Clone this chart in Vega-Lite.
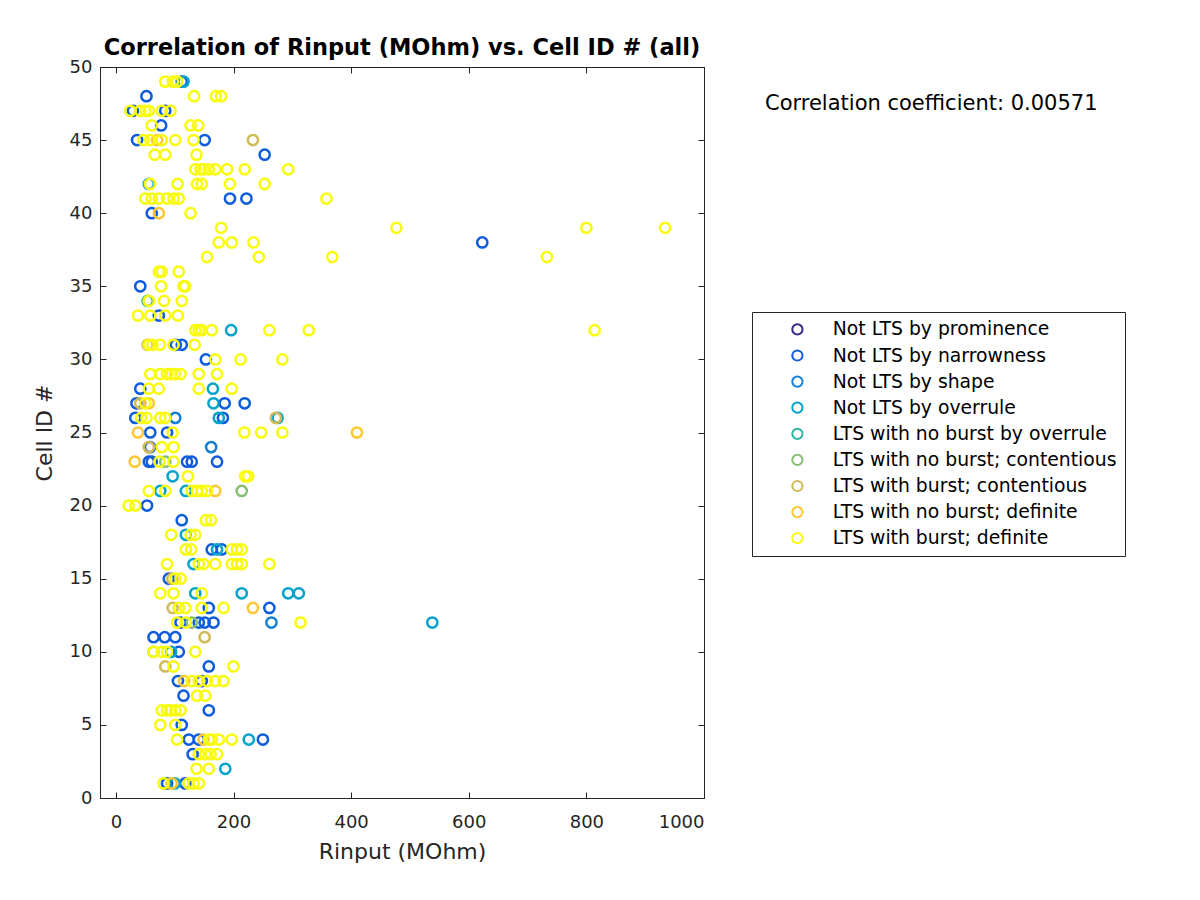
{
  "$schema": "https://vega.github.io/schema/vega-lite/v6.json",
  "width": 604,
  "height": 731,
  "autosize": {"type": "none"},
  "padding": {"left": 100, "top": 67, "right": 496, "bottom": 102},
  "background": "white",
  "config": {
    "font": "DejaVu Sans",
    "view": {"stroke": "#262626", "strokeWidth": 1}
  },
  "title": {
    "text": "Correlation of Rinput (MOhm) vs. Cell ID # (all)",
    "fontSize": 22.5,
    "fontWeight": "bold",
    "color": "#000000",
    "anchor": "middle",
    "offset": -1
  },
  "layer": [
    {
      "data": {
        "values": [
          {"x": 112, "y": 49, "c": "Not LTS by narrowness"},
          {"x": 52, "y": 48, "c": "Not LTS by narrowness"},
          {"x": 29, "y": 47, "c": "Not LTS by narrowness"},
          {"x": 84, "y": 47, "c": "Not LTS by narrowness"},
          {"x": 77, "y": 46, "c": "Not LTS by narrowness"},
          {"x": 36, "y": 45, "c": "Not LTS by narrowness"},
          {"x": 151, "y": 45, "c": "Not LTS by narrowness"},
          {"x": 253, "y": 44, "c": "Not LTS by narrowness"},
          {"x": 194, "y": 41, "c": "Not LTS by narrowness"},
          {"x": 222, "y": 41, "c": "Not LTS by narrowness"},
          {"x": 61, "y": 40, "c": "Not LTS by narrowness"},
          {"x": 623, "y": 38, "c": "Not LTS by narrowness"},
          {"x": 41.5, "y": 35, "c": "Not LTS by narrowness"},
          {"x": 73, "y": 33, "c": "Not LTS by narrowness"},
          {"x": 102, "y": 31, "c": "Not LTS by narrowness"},
          {"x": 112, "y": 31, "c": "Not LTS by narrowness"},
          {"x": 153, "y": 30, "c": "Not LTS by narrowness"},
          {"x": 41.5, "y": 28, "c": "Not LTS by narrowness"},
          {"x": 35, "y": 27, "c": "Not LTS by narrowness"},
          {"x": 185, "y": 27, "c": "Not LTS by narrowness"},
          {"x": 219, "y": 27, "c": "Not LTS by narrowness"},
          {"x": 33, "y": 26, "c": "Not LTS by narrowness"},
          {"x": 182, "y": 26, "c": "Not LTS by narrowness"},
          {"x": 58.5, "y": 25, "c": "Not LTS by narrowness"},
          {"x": 87, "y": 25, "c": "Not LTS by narrowness"},
          {"x": 58, "y": 24, "c": "Not LTS by narrowness"},
          {"x": 56, "y": 23, "c": "Not LTS by narrowness"},
          {"x": 61, "y": 23, "c": "Not LTS by narrowness"},
          {"x": 121, "y": 23, "c": "Not LTS by narrowness"},
          {"x": 129, "y": 23, "c": "Not LTS by narrowness"},
          {"x": 172, "y": 23, "c": "Not LTS by narrowness"},
          {"x": 53, "y": 20, "c": "Not LTS by narrowness"},
          {"x": 112, "y": 19, "c": "Not LTS by narrowness"},
          {"x": 163, "y": 17, "c": "Not LTS by narrowness"},
          {"x": 180, "y": 17, "c": "Not LTS by narrowness"},
          {"x": 90, "y": 15, "c": "Not LTS by narrowness"},
          {"x": 261, "y": 13, "c": "Not LTS by narrowness"},
          {"x": 158, "y": 13, "c": "Not LTS by narrowness"},
          {"x": 110, "y": 12, "c": "Not LTS by narrowness"},
          {"x": 141, "y": 12, "c": "Not LTS by narrowness"},
          {"x": 151, "y": 12, "c": "Not LTS by narrowness"},
          {"x": 166, "y": 12, "c": "Not LTS by narrowness"},
          {"x": 64, "y": 11, "c": "Not LTS by narrowness"},
          {"x": 83, "y": 11, "c": "Not LTS by narrowness"},
          {"x": 101, "y": 11, "c": "Not LTS by narrowness"},
          {"x": 107, "y": 10, "c": "Not LTS by narrowness"},
          {"x": 158, "y": 9, "c": "Not LTS by narrowness"},
          {"x": 105.5, "y": 8, "c": "Not LTS by narrowness"},
          {"x": 146, "y": 8, "c": "Not LTS by narrowness"},
          {"x": 115, "y": 7, "c": "Not LTS by narrowness"},
          {"x": 158, "y": 6, "c": "Not LTS by narrowness"},
          {"x": 112, "y": 5, "c": "Not LTS by narrowness"},
          {"x": 124, "y": 4, "c": "Not LTS by narrowness"},
          {"x": 141, "y": 4, "c": "Not LTS by narrowness"},
          {"x": 250, "y": 4, "c": "Not LTS by narrowness"},
          {"x": 130.5, "y": 3, "c": "Not LTS by narrowness"},
          {"x": 87, "y": 1, "c": "Not LTS by narrowness"},
          {"x": 118, "y": 1, "c": "Not LTS by narrowness"},
          {"x": 101, "y": 26, "c": "Not LTS by shape"},
          {"x": 162, "y": 24, "c": "Not LTS by shape"},
          {"x": 264.5, "y": 12, "c": "Not LTS by shape"},
          {"x": 115, "y": 49, "c": "Not LTS by overrule"},
          {"x": 56, "y": 42, "c": "Not LTS by overrule"},
          {"x": 196, "y": 32, "c": "Not LTS by overrule"},
          {"x": 165, "y": 28, "c": "Not LTS by overrule"},
          {"x": 166, "y": 27, "c": "Not LTS by overrule"},
          {"x": 275, "y": 26, "c": "Not LTS by overrule"},
          {"x": 175, "y": 26, "c": "Not LTS by overrule"},
          {"x": 96.5, "y": 22, "c": "Not LTS by overrule"},
          {"x": 75.5, "y": 21, "c": "Not LTS by overrule"},
          {"x": 119, "y": 21, "c": "Not LTS by overrule"},
          {"x": 119, "y": 18, "c": "Not LTS by overrule"},
          {"x": 172, "y": 17, "c": "Not LTS by overrule"},
          {"x": 132, "y": 16, "c": "Not LTS by overrule"},
          {"x": 135, "y": 14, "c": "Not LTS by overrule"},
          {"x": 214, "y": 14, "c": "Not LTS by overrule"},
          {"x": 293, "y": 14, "c": "Not LTS by overrule"},
          {"x": 311, "y": 14, "c": "Not LTS by overrule"},
          {"x": 538, "y": 12, "c": "Not LTS by overrule"},
          {"x": 94, "y": 10, "c": "Not LTS by overrule"},
          {"x": 226, "y": 4, "c": "Not LTS by overrule"},
          {"x": 186, "y": 2, "c": "Not LTS by overrule"},
          {"x": 100, "y": 1, "c": "Not LTS by overrule"},
          {"x": 54, "y": 34, "c": "LTS with no burst by overrule"},
          {"x": 214, "y": 21, "c": "LTS with no burst; contentious"},
          {"x": 129, "y": 12, "c": "LTS with no burst; contentious"},
          {"x": 84, "y": 23, "c": "LTS with no burst; contentious"},
          {"x": 64, "y": 10, "c": "LTS with no burst; contentious"},
          {"x": 233, "y": 45, "c": "LTS with burst; contentious"},
          {"x": 272, "y": 26, "c": "LTS with burst; contentious"},
          {"x": 54, "y": 31, "c": "LTS with burst; contentious"},
          {"x": 41.5, "y": 27, "c": "LTS with burst; contentious"},
          {"x": 56, "y": 24, "c": "LTS with burst; contentious"},
          {"x": 151, "y": 11, "c": "LTS with burst; contentious"},
          {"x": 84, "y": 9, "c": "LTS with burst; contentious"},
          {"x": 96, "y": 15, "c": "LTS with burst; contentious"},
          {"x": 96.5, "y": 13, "c": "LTS with burst; contentious"},
          {"x": 70, "y": 45, "c": "LTS with no burst; definite"},
          {"x": 73, "y": 40, "c": "LTS with no burst; definite"},
          {"x": 37.5, "y": 25, "c": "LTS with no burst; definite"},
          {"x": 56, "y": 27, "c": "LTS with no burst; definite"},
          {"x": 32, "y": 23, "c": "LTS with no burst; definite"},
          {"x": 169, "y": 21, "c": "LTS with no burst; definite"},
          {"x": 410, "y": 25, "c": "LTS with no burst; definite"},
          {"x": 233, "y": 13, "c": "LTS with no burst; definite"},
          {"x": 149, "y": 4, "c": "LTS with no burst; definite"},
          {"x": 95, "y": 1, "c": "LTS with no burst; definite"},
          {"x": 116, "y": 8, "c": "LTS with no burst; definite"},
          {"x": 84, "y": 49, "c": "LTS with burst; definite"},
          {"x": 97, "y": 49, "c": "LTS with burst; definite"},
          {"x": 104, "y": 49, "c": "LTS with burst; definite"},
          {"x": 133, "y": 48, "c": "LTS with burst; definite"},
          {"x": 170, "y": 48, "c": "LTS with burst; definite"},
          {"x": 179, "y": 48, "c": "LTS with burst; definite"},
          {"x": 24.5, "y": 47, "c": "LTS with burst; definite"},
          {"x": 41.5, "y": 47, "c": "LTS with burst; definite"},
          {"x": 50, "y": 47, "c": "LTS with burst; definite"},
          {"x": 56, "y": 47, "c": "LTS with burst; definite"},
          {"x": 78, "y": 47, "c": "LTS with burst; definite"},
          {"x": 93, "y": 47, "c": "LTS with burst; definite"},
          {"x": 61, "y": 46, "c": "LTS with burst; definite"},
          {"x": 127, "y": 46, "c": "LTS with burst; definite"},
          {"x": 140, "y": 46, "c": "LTS with burst; definite"},
          {"x": 47, "y": 45, "c": "LTS with burst; definite"},
          {"x": 58.5, "y": 45, "c": "LTS with burst; definite"},
          {"x": 78, "y": 45, "c": "LTS with burst; definite"},
          {"x": 101, "y": 45, "c": "LTS with burst; definite"},
          {"x": 132, "y": 45, "c": "LTS with burst; definite"},
          {"x": 66, "y": 44, "c": "LTS with burst; definite"},
          {"x": 84, "y": 44, "c": "LTS with burst; definite"},
          {"x": 137, "y": 44, "c": "LTS with burst; definite"},
          {"x": 135, "y": 43, "c": "LTS with burst; definite"},
          {"x": 144, "y": 43, "c": "LTS with burst; definite"},
          {"x": 149, "y": 43, "c": "LTS with burst; definite"},
          {"x": 158, "y": 43, "c": "LTS with burst; definite"},
          {"x": 169, "y": 43, "c": "LTS with burst; definite"},
          {"x": 189, "y": 43, "c": "LTS with burst; definite"},
          {"x": 219, "y": 43, "c": "LTS with burst; definite"},
          {"x": 293, "y": 43, "c": "LTS with burst; definite"},
          {"x": 58, "y": 42, "c": "LTS with burst; definite"},
          {"x": 105, "y": 42, "c": "LTS with burst; definite"},
          {"x": 138, "y": 42, "c": "LTS with burst; definite"},
          {"x": 146, "y": 42, "c": "LTS with burst; definite"},
          {"x": 194, "y": 42, "c": "LTS with burst; definite"},
          {"x": 253, "y": 42, "c": "LTS with burst; definite"},
          {"x": 50, "y": 41, "c": "LTS with burst; definite"},
          {"x": 61, "y": 41, "c": "LTS with burst; definite"},
          {"x": 73, "y": 41, "c": "LTS with burst; definite"},
          {"x": 87, "y": 41, "c": "LTS with burst; definite"},
          {"x": 98, "y": 41, "c": "LTS with burst; definite"},
          {"x": 107, "y": 41, "c": "LTS with burst; definite"},
          {"x": 358, "y": 41, "c": "LTS with burst; definite"},
          {"x": 127, "y": 40, "c": "LTS with burst; definite"},
          {"x": 179, "y": 39, "c": "LTS with burst; definite"},
          {"x": 477, "y": 39, "c": "LTS with burst; definite"},
          {"x": 800, "y": 39, "c": "LTS with burst; definite"},
          {"x": 934, "y": 39, "c": "LTS with burst; definite"},
          {"x": 175, "y": 38, "c": "LTS with burst; definite"},
          {"x": 197, "y": 38, "c": "LTS with burst; definite"},
          {"x": 234, "y": 38, "c": "LTS with burst; definite"},
          {"x": 155, "y": 37, "c": "LTS with burst; definite"},
          {"x": 243, "y": 37, "c": "LTS with burst; definite"},
          {"x": 368, "y": 37, "c": "LTS with burst; definite"},
          {"x": 733, "y": 37, "c": "LTS with burst; definite"},
          {"x": 73, "y": 36, "c": "LTS with burst; definite"},
          {"x": 78, "y": 36, "c": "LTS with burst; definite"},
          {"x": 107, "y": 36, "c": "LTS with burst; definite"},
          {"x": 77, "y": 35, "c": "LTS with burst; definite"},
          {"x": 115, "y": 35, "c": "LTS with burst; definite"},
          {"x": 118, "y": 35, "c": "LTS with burst; definite"},
          {"x": 56, "y": 34, "c": "LTS with burst; definite"},
          {"x": 82, "y": 34, "c": "LTS with burst; definite"},
          {"x": 112, "y": 34, "c": "LTS with burst; definite"},
          {"x": 37.5, "y": 33, "c": "LTS with burst; definite"},
          {"x": 58.5, "y": 33, "c": "LTS with burst; definite"},
          {"x": 84, "y": 33, "c": "LTS with burst; definite"},
          {"x": 105.5, "y": 33, "c": "LTS with burst; definite"},
          {"x": 135, "y": 32, "c": "LTS with burst; definite"},
          {"x": 141, "y": 32, "c": "LTS with burst; definite"},
          {"x": 146, "y": 32, "c": "LTS with burst; definite"},
          {"x": 163, "y": 32, "c": "LTS with burst; definite"},
          {"x": 261, "y": 32, "c": "LTS with burst; definite"},
          {"x": 328, "y": 32, "c": "LTS with burst; definite"},
          {"x": 814, "y": 32, "c": "LTS with burst; definite"},
          {"x": 56, "y": 31, "c": "LTS with burst; definite"},
          {"x": 62, "y": 31, "c": "LTS with burst; definite"},
          {"x": 75, "y": 31, "c": "LTS with burst; definite"},
          {"x": 98, "y": 31, "c": "LTS with burst; definite"},
          {"x": 134, "y": 31, "c": "LTS with burst; definite"},
          {"x": 169, "y": 30, "c": "LTS with burst; definite"},
          {"x": 212, "y": 30, "c": "LTS with burst; definite"},
          {"x": 283, "y": 30, "c": "LTS with burst; definite"},
          {"x": 58.5, "y": 29, "c": "LTS with burst; definite"},
          {"x": 75.5, "y": 29, "c": "LTS with burst; definite"},
          {"x": 87, "y": 29, "c": "LTS with burst; definite"},
          {"x": 95, "y": 29, "c": "LTS with burst; definite"},
          {"x": 101, "y": 29, "c": "LTS with burst; definite"},
          {"x": 110, "y": 29, "c": "LTS with burst; definite"},
          {"x": 141, "y": 29, "c": "LTS with burst; definite"},
          {"x": 172, "y": 29, "c": "LTS with burst; definite"},
          {"x": 56, "y": 28, "c": "LTS with burst; definite"},
          {"x": 73, "y": 28, "c": "LTS with burst; definite"},
          {"x": 141, "y": 28, "c": "LTS with burst; definite"},
          {"x": 197, "y": 28, "c": "LTS with burst; definite"},
          {"x": 50, "y": 27, "c": "LTS with burst; definite"},
          {"x": 43, "y": 26, "c": "LTS with burst; definite"},
          {"x": 52, "y": 26, "c": "LTS with burst; definite"},
          {"x": 75.5, "y": 26, "c": "LTS with burst; definite"},
          {"x": 84, "y": 26, "c": "LTS with burst; definite"},
          {"x": 96.5, "y": 25, "c": "LTS with burst; definite"},
          {"x": 218.5, "y": 25, "c": "LTS with burst; definite"},
          {"x": 247, "y": 25, "c": "LTS with burst; definite"},
          {"x": 283, "y": 25, "c": "LTS with burst; definite"},
          {"x": 78, "y": 24, "c": "LTS with burst; definite"},
          {"x": 98, "y": 24, "c": "LTS with burst; definite"},
          {"x": 74, "y": 23, "c": "LTS with burst; definite"},
          {"x": 98, "y": 23, "c": "LTS with burst; definite"},
          {"x": 122.5, "y": 22, "c": "LTS with burst; definite"},
          {"x": 220, "y": 22, "c": "LTS with burst; definite"},
          {"x": 225, "y": 22, "c": "LTS with burst; definite"},
          {"x": 56, "y": 21, "c": "LTS with burst; definite"},
          {"x": 84, "y": 21, "c": "LTS with burst; definite"},
          {"x": 129, "y": 21, "c": "LTS with burst; definite"},
          {"x": 138, "y": 21, "c": "LTS with burst; definite"},
          {"x": 146, "y": 21, "c": "LTS with burst; definite"},
          {"x": 155, "y": 21, "c": "LTS with burst; definite"},
          {"x": 21.6, "y": 20, "c": "LTS with burst; definite"},
          {"x": 33, "y": 20, "c": "LTS with burst; definite"},
          {"x": 153, "y": 19, "c": "LTS with burst; definite"},
          {"x": 162, "y": 19, "c": "LTS with burst; definite"},
          {"x": 94, "y": 18, "c": "LTS with burst; definite"},
          {"x": 127, "y": 18, "c": "LTS with burst; definite"},
          {"x": 135, "y": 18, "c": "LTS with burst; definite"},
          {"x": 119, "y": 17, "c": "LTS with burst; definite"},
          {"x": 128, "y": 17, "c": "LTS with burst; definite"},
          {"x": 197, "y": 17, "c": "LTS with burst; definite"},
          {"x": 206, "y": 17, "c": "LTS with burst; definite"},
          {"x": 214, "y": 17, "c": "LTS with burst; definite"},
          {"x": 87, "y": 16, "c": "LTS with burst; definite"},
          {"x": 141, "y": 16, "c": "LTS with burst; definite"},
          {"x": 149, "y": 16, "c": "LTS with burst; definite"},
          {"x": 169, "y": 16, "c": "LTS with burst; definite"},
          {"x": 197, "y": 16, "c": "LTS with burst; definite"},
          {"x": 206, "y": 16, "c": "LTS with burst; definite"},
          {"x": 214, "y": 16, "c": "LTS with burst; definite"},
          {"x": 261, "y": 16, "c": "LTS with burst; definite"},
          {"x": 101, "y": 15, "c": "LTS with burst; definite"},
          {"x": 110, "y": 15, "c": "LTS with burst; definite"},
          {"x": 75.5, "y": 14, "c": "LTS with burst; definite"},
          {"x": 98, "y": 14, "c": "LTS with burst; definite"},
          {"x": 146, "y": 14, "c": "LTS with burst; definite"},
          {"x": 107, "y": 13, "c": "LTS with burst; definite"},
          {"x": 118, "y": 13, "c": "LTS with burst; definite"},
          {"x": 146, "y": 13, "c": "LTS with burst; definite"},
          {"x": 183, "y": 13, "c": "LTS with burst; definite"},
          {"x": 104, "y": 12, "c": "LTS with burst; definite"},
          {"x": 119, "y": 12, "c": "LTS with burst; definite"},
          {"x": 314, "y": 12, "c": "LTS with burst; definite"},
          {"x": 64, "y": 10, "c": "LTS with burst; definite"},
          {"x": 78, "y": 10, "c": "LTS with burst; definite"},
          {"x": 87, "y": 10, "c": "LTS with burst; definite"},
          {"x": 135, "y": 10, "c": "LTS with burst; definite"},
          {"x": 98, "y": 9, "c": "LTS with burst; definite"},
          {"x": 200, "y": 9, "c": "LTS with burst; definite"},
          {"x": 129, "y": 8, "c": "LTS with burst; definite"},
          {"x": 141, "y": 8, "c": "LTS with burst; definite"},
          {"x": 155, "y": 8, "c": "LTS with burst; definite"},
          {"x": 169, "y": 8, "c": "LTS with burst; definite"},
          {"x": 183, "y": 8, "c": "LTS with burst; definite"},
          {"x": 138, "y": 7, "c": "LTS with burst; definite"},
          {"x": 152, "y": 7, "c": "LTS with burst; definite"},
          {"x": 78, "y": 6, "c": "LTS with burst; definite"},
          {"x": 87, "y": 6, "c": "LTS with burst; definite"},
          {"x": 93, "y": 6, "c": "LTS with burst; definite"},
          {"x": 101, "y": 6, "c": "LTS with burst; definite"},
          {"x": 110, "y": 6, "c": "LTS with burst; definite"},
          {"x": 75.5, "y": 5, "c": "LTS with burst; definite"},
          {"x": 101, "y": 5, "c": "LTS with burst; definite"},
          {"x": 104, "y": 4, "c": "LTS with burst; definite"},
          {"x": 158, "y": 4, "c": "LTS with burst; definite"},
          {"x": 163, "y": 4, "c": "LTS with burst; definite"},
          {"x": 175, "y": 4, "c": "LTS with burst; definite"},
          {"x": 197, "y": 4, "c": "LTS with burst; definite"},
          {"x": 141, "y": 3, "c": "LTS with burst; definite"},
          {"x": 152, "y": 3, "c": "LTS with burst; definite"},
          {"x": 161, "y": 3, "c": "LTS with burst; definite"},
          {"x": 172, "y": 3, "c": "LTS with burst; definite"},
          {"x": 137, "y": 2, "c": "LTS with burst; definite"},
          {"x": 158, "y": 2, "c": "LTS with burst; definite"},
          {"x": 81, "y": 1, "c": "LTS with burst; definite"},
          {"x": 124, "y": 1, "c": "LTS with burst; definite"},
          {"x": 132, "y": 1, "c": "LTS with burst; definite"},
          {"x": 141, "y": 1, "c": "LTS with burst; definite"}
        ]
      },
      "mark": {"type": "point", "shape": "circle", "filled": false, "size": 105, "strokeWidth": 2.5, "opacity": 1},
      "encoding": {
        "x": {
          "field": "x", "type": "quantitative",
          "scale": {"domain": [-27, 1000], "nice": false, "zero": false},
          "axis": {
            "values": [0, 200, 400, 600, 800, 1000],
            "format": "d",
            "title": "Rinput (MOhm)",
            "titleFontSize": 22, "titleFontWeight": "normal", "titleColor": "#262626", "titlePadding": 10,
            "labelFontSize": 18, "labelColor": "#262626", "labelPadding": 21,
            "tickSize": -6, "tickColor": "#262626", "domainColor": "#262626", "grid": false
          }
        },
        "y": {
          "field": "y", "type": "quantitative",
          "scale": {"domain": [0, 50], "nice": false, "zero": false},
          "axis": {
            "values": [0, 5, 10, 15, 20, 25, 30, 35, 40, 45, 50],
            "title": "Cell ID #",
            "titleFontSize": 22, "titleFontWeight": "normal", "titleColor": "#262626", "titlePadding": 13,
            "labelFontSize": 18, "labelColor": "#262626", "labelPadding": 14,
            "tickSize": -6, "tickColor": "#262626", "domainColor": "#262626", "grid": false
          }
        },
        "color": {
          "field": "c", "type": "nominal",
          "scale": {
            "domain": ["Not LTS by prominence", "Not LTS by narrowness", "Not LTS by shape", "Not LTS by overrule", "LTS with no burst by overrule", "LTS with no burst; contentious", "LTS with burst; contentious", "LTS with no burst; definite", "LTS with burst; definite"],
            "range": ["#352a87", "#0f5cdd", "#1481d6", "#06a4ca", "#2eb7a4", "#87bf77", "#d1bb59", "#fec832", "#f9fb0e"]
          },
          "legend": {
            "orient": "none", "legendX": 652, "legendY": 245,
            "title": null,
            "strokeColor": "#262626", "fillColor": "white",
            "padding": 8,
            "symbolOffset": 28,
            "symbolType": "circle", "symbolSize": 105, "symbolStrokeWidth": 2,
            "labelFontSize": 18.8, "labelColor": "#000000", "labelOffset": 26,
            "rowPadding": 6.1,
            "labelLimit": 400
          }
        }
      }
    },
    {
      "data": {"values": [{"x": 0, "y": 0}]},
      "mark": {"type": "point", "opacity": 0},
      "encoding": {
        "x": {
          "field": "x", "type": "quantitative",
          "scale": {"domain": [-27, 1000], "nice": false, "zero": false},
          "axis": {"orient": "top", "values": [0, 200, 400, 600, 800, 1000], "labels": false, "title": null, "tickSize": -6, "tickColor": "#262626", "domainColor": "#262626", "grid": false}
        },
        "y": {
          "field": "y", "type": "quantitative",
          "scale": {"domain": [0, 50], "nice": false, "zero": false},
          "axis": {"orient": "right", "values": [0, 5, 10, 15, 20, 25, 30, 35, 40, 45, 50], "labels": false, "title": null, "tickSize": -6, "tickColor": "#262626", "domainColor": "#262626", "grid": false}
        }
      }
    },
    {
      "data": {"values": [{"t": "Correlation coefficient: 0.00571"}]},
      "mark": {"type": "text", "fontSize": 21, "color": "#000000", "align": "left", "baseline": "middle"},
      "encoding": {
        "text": {"field": "t"},
        "x": {"value": 665},
        "y": {"value": 37}
      }
    }
  ],
  "resolve": {"scale": {"x": "independent", "y": "independent"}, "axis": {"x": "independent", "y": "independent"}}
}
